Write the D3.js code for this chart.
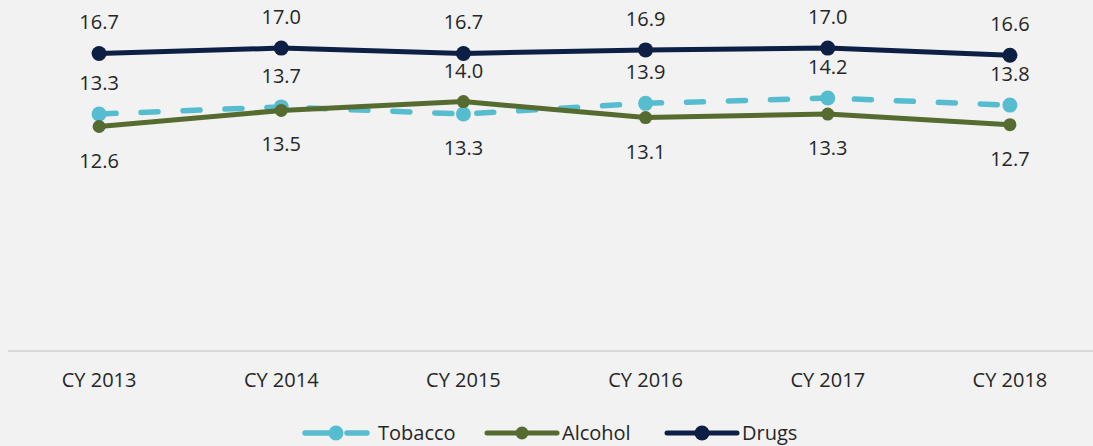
<!DOCTYPE html>
<html>
<head>
<meta charset="utf-8">
<script src="https://cdn.jsdelivr.net/npm/d3@7"></script>
<style>
  html, body { margin: 0; padding: 0; background: #f1f2f1; }
  svg { display: block; font-family: "Open Sans", sans-serif; }
</style>
</head>
<body>
<div id="chart"></div>
<script>
const years = ["CY 2013", "CY 2014", "CY 2015", "CY 2016", "CY 2017", "CY 2018"];
const tobacco = [13.3, 13.7, 13.3, 13.9, 14.2, 13.8];
const alcohol = [12.6, 13.5, 14.0, 13.1, 13.3, 12.7];
const drugs = [16.7, 17.0, 16.7, 16.9, 17.0, 16.6];

// which side of the point each data label sits on
const tobaccoLabelSide = ["up", "up", "down", "up", "up", "up"];
const alcoholLabelSide = ["down", "down", "up", "down", "down", "down"];
const drugsLabelSide = ["up", "up", "up", "up", "up", "up"];

const dimensions = {
    width: 1093,
    height: 446,
    plotLeft: 8,
    plotRight: 1101,
    plotTop: 0,
    axisY: 351
};

const series = [
    { name: "Tobacco", values: tobacco, sides: tobaccoLabelSide, color: "#56bdd1", width: 5.5, dash: "17,25", r: 7.5 },
    { name: "Alcohol", values: alcohol, sides: alcoholLabelSide, color: "#566b2f", width: 5, dash: null, r: 6.5 },
    { name: "Drugs", values: drugs, sides: drugsLabelSide, color: "#0d1f45", width: 5, dash: null, r: 7.5 }
];

const svg = d3.select("#chart").append("svg")
    .attr("width", dimensions.width)
    .attr("height", dimensions.height);

svg.append("rect")
    .attr("width", dimensions.width)
    .attr("height", dimensions.height)
    .attr("fill", "#f1f2f1");

const xScale = d3.scaleBand()
    .domain(years)
    .range([dimensions.plotLeft, dimensions.plotRight]);

const yScale = d3.scaleLinear()
    .domain([0, 19.7])
    .range([dimensions.axisY, dimensions.plotTop]);

const xc = d => xScale(d) + xScale.bandwidth() / 2;

// x axis
const xAxis = svg.append("g")
    .attr("transform", "translate(0," + dimensions.axisY + ")")
    .call(d3.axisBottom(xScale).tickSize(0).tickPadding(22));
xAxis.select(".domain").attr("stroke", "#d9d9d9").attr("stroke-width", 2)
    .attr("d", "M" + dimensions.plotLeft + ",0H" + dimensions.width);
xAxis.selectAll("text")
    .attr("font-family", "Open Sans, sans-serif")
    .attr("font-size", 20)
    .attr("fill", "#262626");

const line = d3.line()
    .x((d, i) => xc(years[i]))
    .y(d => yScale(d));

// draw order: drugs, tobacco, alcohol on top
const drawOrder = [series[2], series[0], series[1]];

drawOrder.forEach(s => {
    svg.append("path")
        .datum(s.values)
        .attr("d", line)
        .attr("fill", "none")
        .attr("stroke", s.color)
        .attr("stroke-width", s.width)
        .attr("stroke-linecap", "round")
        .attr("stroke-dasharray", s.dash);

    svg.selectAll(".pt-" + s.name)
        .data(s.values)
        .enter().append("circle")
        .attr("cx", (d, i) => xc(years[i]))
        .attr("cy", d => yScale(d))
        .attr("r", s.r)
        .attr("fill", s.color);
});

// data labels
series.forEach(s => {
    svg.selectAll(".lbl-" + s.name)
        .data(s.values)
        .enter().append("text")
        .attr("x", (d, i) => xc(years[i]))
        .attr("y", (d, i) => yScale(d) + (s.sides[i] === "up" ? -31 : 34))
        .attr("dy", "0.35em")
        .attr("text-anchor", "middle")
        .attr("font-size", 20)
        .attr("fill", "#262626")
        .text(d => d.toFixed(1));
});

// legend
const legendY = 433;
const legendItems = [
    { s: series[0], x0: 305, x1: 367, tx: 378 },
    { s: series[1], x0: 487, x1: 557, tx: 562 },
    { s: series[2], x0: 667, x1: 737, tx: 742 }
];

legendItems.forEach(item => {
    const g = svg.append("g");
    if (item.s.dash) {
        g.append("line")
            .attr("x1", item.x0).attr("x2", item.x0 + 20)
            .attr("y1", legendY).attr("y2", legendY)
            .attr("stroke", item.s.color).attr("stroke-width", item.s.width)
            .attr("stroke-linecap", "round");
        g.append("line")
            .attr("x1", item.x1 - 20).attr("x2", item.x1)
            .attr("y1", legendY).attr("y2", legendY)
            .attr("stroke", item.s.color).attr("stroke-width", item.s.width)
            .attr("stroke-linecap", "round");
        g.append("line")
            .attr("x1", (item.x0 + item.x1) / 2 - 10).attr("x2", (item.x0 + item.x1) / 2)
            .attr("y1", legendY).attr("y2", legendY)
            .attr("stroke", item.s.color).attr("stroke-width", item.s.width);
    } else {
        g.append("line")
            .attr("x1", item.x0).attr("x2", item.x1)
            .attr("y1", legendY).attr("y2", legendY)
            .attr("stroke", item.s.color).attr("stroke-width", item.s.width)
            .attr("stroke-linecap", "round");
    }
    g.append("circle")
        .attr("cx", (item.x0 + item.x1) / 2)
        .attr("cy", legendY)
        .attr("r", item.s.r)
        .attr("fill", item.s.color);
    g.append("text")
        .attr("x", item.tx)
        .attr("y", legendY)
        .attr("dy", "0.35em")
        .attr("font-size", 20)
        .attr("fill", "#262626")
        .text(item.s.name);
});
</script>
</body>
</html>
